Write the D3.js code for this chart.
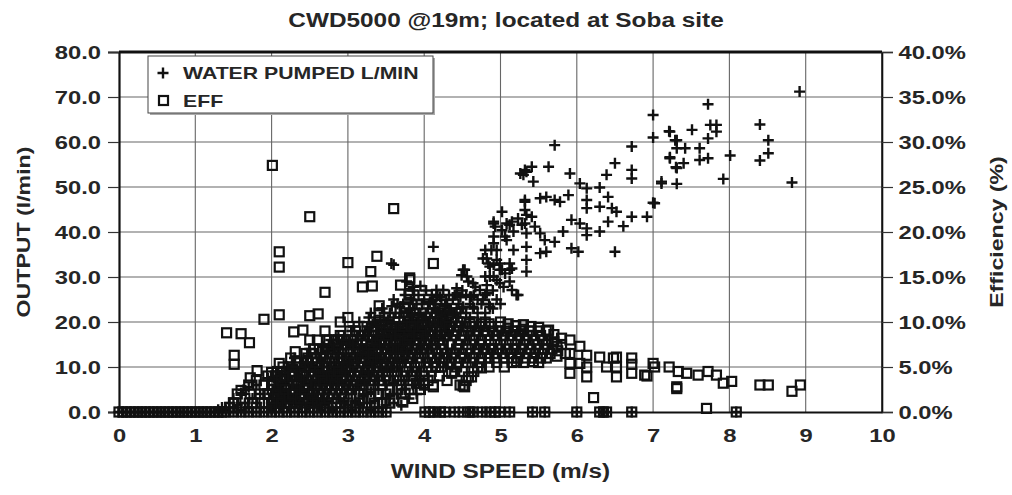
<!DOCTYPE html>
<html><head><meta charset="utf-8">
<script src="https://cdn.jsdelivr.net/npm/d3@7"></script>
<style>
html,body{margin:0;padding:0;background:#fff;}
svg{display:block;}
text{font-family:"Liberation Sans",Arial,sans-serif;fill:#262626;}
</style></head>
<body>
<svg id="chart" width="1012" height="495"></svg>
<script>
// ---------- DATA ----------
const chartTitle = "CWD5000 @19m; located at Soba site";
const xTicks = [0,1,2,3,4,5,6,7,8,9,10];
const leftTicks = [0,10,20,30,40,50,60,70,80];
const rightTicks = [0,5,10,15,20,25,30,35,40];
const seriesNames = ["WATER PUMPED L/MIN","EFF"];

// wind speed (m/s), water pumped (l/min)
const waterPumped = [
[0,0],[0.05,0],[0.1,0],[0.15,0],[0.2,0],[0.25,0],[0.3,0],[0.35,0],[0.4,0],[0.45,0],[0.5,0],[0.55,0],[0.6,0],[0.65,0],[0.7,0],[0.75,0],[0.8,0],[0.85,0],[0.9,0],[0.95,0],[1,0],[1.05,0],[1.1,0],[1.15,0],[1.2,0],[1.25,0],[1.3,0],[1.35,0],[1.4,0],[1.5,0],[1.6,0],[1.7,0],[1.8,0],[1.9,0],[2,0],[2.1,0],[2.2,0],[2.3,0],[2.4,0],[2.5,0],[2.6,0],[2.7,0],[2.8,0],[2.9,0],[3,0],[3.1,0],[3.2,0],[3.3,0],[3.4,0],[3.5,0],
[4.01,0],[4.07,0],[4.12,0],[4.21,0],[4.27,0],[4.4,0],[4.51,0],[4.6,0],[4.64,0],[4.76,0],[4.86,0],[4.93,0],[4.99,0],[5.12,0],[5.42,0],[5.58,0],[6.0,0],[6.3,0],[6.35,0],[6.39,0],[6.72,0],[8.09,0],
[1.3,0.5],[1.35,1],[1.4,0.5],[1.45,2],[1.5,1],[1.5,3],[1.55,1.5],[1.6,0.5],[1.6,4.2],[1.63,4.9],[1.65,2],[1.7,5.5],[1.7,1],[1.75,3],[1.8,2],[1.8,6],[1.85,4],[1.9,1],[1.9,3],[1.95,5],[1.95,7.5],[2.0,2],[2.0,4],[2.0,0.5],
[2.05,1],[2.05,3],[2.05,6],[2.1,2],[2.1,4.5],[2.1,8],[2.15,1],[2.15,5],[2.2,3],[2.2,7],[2.2,10],[2.25,2],[2.25,5],[2.3,1],[2.3,4],[2.3,8],[2.3,12],[2.35,3],[2.35,6],[2.4,2],[2.4,5],[2.4,9],[2.45,4],[2.45,7],[2.45,11],[2.5,3],[2.5,6],[2.5,9],[2.5,14],
[2.55,2],[2.55,5],[2.55,8],[2.6,4],[2.6,7],[2.6,11],[2.65,3],[2.65,6],[2.65,9],[2.65,13],[2.7,5],[2.7,8],[2.7,12],[2.75,4],[2.75,7],[2.75,10],[2.75,15],[2.8,3],[2.8,6],[2.8,9],[2.8,13],[2.85,5],[2.85,8],[2.85,11],[2.85,16],[2.9,4],[2.9,7],[2.9,10],[2.9,14],[2.95,6],[2.95,9],[2.95,12],[2.95,17],[3.0,5],[3.0,8],[3.0,11],[3.0,15],
[3.05,4],[3.05,7],[3.05,10],[3.05,13],[3.05,18],[3.1,6],[3.1,9],[3.1,12],[3.1,16],[3.15,5],[3.15,8],[3.15,11],[3.15,14],[3.15,20],[3.2,7],[3.2,10],[3.2,13],[3.2,17],[3.25,6],[3.25,9],[3.25,12],[3.25,15],[3.25,19],[3.3,8],[3.3,11],[3.3,14],[3.3,18],[3.3,22],[3.35,7],[3.35,10],[3.35,13],[3.35,16],[3.35,20],[3.4,9],[3.4,12],[3.4,15],[3.4,19],[3.45,8],[3.45,11],[3.45,14],[3.45,17],[3.45,23],[3.5,10],[3.5,13],[3.5,16],[3.5,20],
[3.55,9],[3.55,12],[3.55,15],[3.55,18],[3.55,22],[3.6,11],[3.6,14],[3.6,17],[3.6,21],[3.6,25],[3.65,10],[3.65,13],[3.65,16],[3.65,19],[3.65,24],[3.7,12],[3.7,15],[3.7,18],[3.7,22],[3.75,11],[3.75,14],[3.75,17],[3.75,20],[3.75,26],[3.8,13],[3.8,16],[3.8,19],[3.8,23],[3.85,12],[3.85,15],[3.85,18],[3.85,21],[3.85,27],[3.9,14],[3.9,17],[3.9,20],[3.9,24],[3.95,13],[3.95,16],[3.95,19],[3.95,22],[3.95,28],[4.0,15],[4.0,18],[4.0,21],[4.0,25],
[4.05,14],[4.05,17],[4.05,20],[4.05,23],[4.1,16],[4.1,19],[4.1,22],[4.1,26],[4.15,15],[4.15,18],[4.15,21],[4.15,24],[4.2,17],[4.2,20],[4.2,23],[4.25,16],[4.25,19],[4.25,22],[4.3,18],[4.3,21],[4.3,24],[4.35,17],[4.35,20],[4.35,23],[4.4,19],[4.4,22],[4.4,26],[4.45,18],[4.45,21],[4.45,24],[4.5,20],[4.5,23],[4.5,27],
[2.025,1.5],[2.025,4],[2.025,7.5],[2.075,2.5],[2.075,5.5],[2.075,9],[2.125,1.5],[2.125,3.5],[2.125,6.5],[2.175,2],[2.175,4],[2.175,8.5],[2.225,1],[2.225,3.5],[2.225,6],[2.225,9.5],[2.275,2.5],[2.275,7],[2.275,10.5],[2.325,2],[2.325,5.5],[2.325,9.5],[2.375,1.5],[2.375,4.5],[2.375,7.5],[2.375,11],[2.425,3],[2.425,6],[2.425,10],[2.475,1.5],[2.475,5],[2.475,8],[2.475,12.5],
[2.525,3.5],[2.525,6.5],[2.525,10.5],[2.575,2.5],[2.575,6],[2.575,9.5],[2.575,13],[2.625,1.5],[2.625,5],[2.625,8.5],[2.625,12],[2.675,4],[2.675,7.5],[2.675,11],[2.675,14.5],[2.725,2.5],[2.725,6.5],[2.725,10],[2.725,13.5],[2.775,5],[2.775,8.5],[2.775,12],[2.775,16],[2.825,4],[2.825,7.5],[2.825,11],[2.825,14.5],[2.875,3],[2.875,6.5],[2.875,9.5],[2.875,13],[2.875,17],[2.925,5],[2.925,8.5],[2.925,12],[2.925,15.5],[2.975,4],[2.975,7],[2.975,10.5],[2.975,14],
[3.025,6],[3.025,9],[3.025,12],[3.025,15.5],[3.075,5],[3.075,8],[3.075,11],[3.075,14.5],[3.075,19],[3.125,7],[3.125,10],[3.125,13],[3.125,17],[3.175,6],[3.175,9],[3.175,12.5],[3.175,16],[3.225,8],[3.225,11],[3.225,14],[3.225,18],[3.275,7],[3.275,10.5],[3.275,13.5],[3.275,17],[3.275,21],[3.325,9],[3.325,12.5],[3.325,15.5],[3.325,19.5],[3.375,8],[3.375,11.5],[3.375,14.5],[3.375,18],[3.425,10],[3.425,13],[3.425,16.5],[3.425,20.5],[3.475,9],[3.475,12],[3.475,15],[3.475,18.5],[3.475,22],
[3.525,11],[3.525,14],[3.525,17],[3.525,20.5],[3.575,10],[3.575,13.5],[3.575,16.5],[3.575,19.5],[3.575,23.5],[3.625,12],[3.625,15],[3.625,18.5],[3.625,22],[3.675,11],[3.675,14.5],[3.675,17.5],[3.675,21],[3.725,13],[3.725,16.5],[3.725,19.5],[3.725,24],[3.775,12],[3.775,15.5],[3.775,18.5],[3.775,22],[3.825,14],[3.825,17.5],[3.825,20.5],[3.825,25],[3.875,13],[3.875,16.5],[3.875,19.5],[3.875,23],[3.925,15],[3.925,18.5],[3.925,21.5],[3.925,26],[3.975,14],[3.975,17.5],[3.975,20.5],[3.975,24],
[4.025,16],[4.025,19],[4.025,22],[4.025,27],[4.075,15],[4.075,18],[4.075,21],[4.075,24.5],[4.125,17],[4.125,20],[4.125,23],[4.175,16],[4.175,19.5],[4.175,22.5],[4.175,26],[4.225,18],[4.225,21.5],[4.225,25],[4.275,17],[4.275,20.5],[4.275,23.5],[4.325,19],[4.325,22.5],[4.325,26],[4.375,18],[4.375,21.5],[4.375,25],[4.425,20],[4.425,23],[4.425,27.5],[4.475,19],[4.475,22],[4.475,25.5],
[2.5,1],[2.55,3.5],[2.6,1.5],[2.65,0.5],[2.7,2],[2.75,1],[2.8,0.5],[2.85,2],[2.9,1],[2.95,2.5],[3.0,1.5],[3.05,0.5],[3.1,2.5],[3.15,1.5],[3.2,3.5],[3.25,2],[3.3,0.5],[3.3,4.5],[3.35,2.5],[3.4,1],[3.4,5],[3.45,3],[3.5,1.5],[3.5,6],[3.55,3.5],[3.6,2],[3.6,6.5],[3.65,4],[3.7,1.5],[3.7,7],[3.75,5],[3.8,3],[3.8,8],[3.85,6],[3.9,4],[3.9,9],[3.95,7],[4.0,5],[4.0,10],[4.05,8],[4.1,11],[4.15,9],[4.2,12],[4.25,10],[4.3,13],[4.35,12],[4.4,14],[4.45,13],[4.5,15],
[4.55,22],[4.55,26],[4.6,21],[4.6,24],[4.65,23],[4.65,26],[4.7,22],[4.7,25],[4.75,24],[4.8,22],[4.8,26],[4.85,24],[4.9,23],[4.9,27],[4.95,25],[5.0,24],
[3.57,33.0],[3.6,32.7],[3.77,29.0],[3.86,27.8],[3.68,23.4],[3.81,22.7],[3.81,21.2],[3.73,21.2],[3.84,21.6],[4.12,36.7],[4.12,24.9],[4.21,25.6],[4.25,27.1],[4.16,27.1],[4.16,25.6],[4.29,24.9],[4.43,26.4],[4.49,30.4],[4.51,31.6],[4.53,31.6],[4.56,30.1],[4.58,29.0],[4.64,28.6],[4.67,27.8],[4.73,27.1],[4.6,25.6],[4.62,25.6],[4.77,24.9],[4.51,23.4],[4.64,23.4],[4.86,23.4],
[4.80,36.0],[4.88,36.0],[4.77,34.1],[4.95,33.8],[4.86,32.3],[4.99,31.6],[5.12,31.6],[4.86,30.1],[4.99,28.6],[5.12,29.0],[5.21,26.0],[4.91,42.3],[5.02,40.4],[5.15,42.3],[5.28,41.6],[4.91,39.0],[5.08,38.2],[4.95,36.0],[5.17,36.0],[4.82,34.1],[4.91,32.7],[5.02,31.6],[5.15,31.9],[4.80,30.1],[4.95,29.3],[5.04,27.8],[5.15,27.1],[5.23,26.0],[4.82,28.2],[4.82,26.4],[4.91,30.1],[5.06,30.8],[4.84,33.0],[4.99,33.0],[5.12,33.0],[4.91,37.5],[5.06,39.0],[5.17,40.1],[4.93,41.2],[5.12,41.6],[5.02,44.5],[4.91,41.9],[5.08,41.9],[5.23,43.0],[5.34,43.8],
[5.32,46.7],[5.32,44.9],[5.41,43.4],[5.32,41.9],[5.45,41.2],[5.34,39.7],[5.52,39.7],[5.58,38.2],[5.34,36.7],[5.52,35.3],[5.34,33.8],[5.34,31.2],[5.30,52.7],[5.26,53.0],[5.32,53.8],[5.41,54.5],[5.63,54.5],[5.43,51.2],[5.34,53.4],[5.6,47.8],[5.52,47.5],[5.71,47.1],[5.32,47.1],[5.71,59.3],[5.91,53.0],[6.04,50.8],[6.13,49.7],[5.89,48.2],[5.78,46.7],[6.13,47.1],[6.13,45.3],[5.93,42.7],[6.04,41.9],[6.13,40.8],[6.13,39.3],[5.82,40.1],[5.93,36.4],[6.02,35.6],[5.71,37.8],[5.6,35.6],
[6.50,55.3],[6.72,53.8],[6.72,51.9],[6.39,52.7],[6.30,49.9],[6.41,47.8],[6.30,45.6],[6.46,45.3],[6.52,44.5],[6.41,42.3],[6.72,43.4],[6.61,41.3],[6.30,40.1],[6.50,35.6],[6.72,59.0],[6.92,43.4],[7.02,46.4],
[7.00,66.0],[7.00,61.0],[7.22,62.3],[7.29,60.4],[7.22,56.4],[7.31,54.2],[7.11,51.2],[7.00,46.5],[7.72,68.4],[7.21,62.4],[7.31,60.4],[7.31,58.6],[7.42,58.6],[7.51,62.7],[7.61,58.6],[7.61,56.0],[7.72,56.4],[7.75,63.8],[7.83,63.8],[7.83,62.3],[7.72,60.8],[7.22,56.6],[7.30,54.4],[7.40,55.3],[8.01,57.0],[7.92,51.8],[7.11,50.8],[7.31,50.7],
[8.40,63.9],[8.51,60.4],[8.51,57.5],[8.40,55.9],[8.82,51.0],[8.92,71.2]
];

// wind speed (m/s), efficiency (%)
const efficiency = [
[0,0],[0.05,0],[0.1,0],[0.15,0],[0.2,0],[0.25,0],[0.3,0],[0.35,0],[0.4,0],[0.45,0],[0.5,0],[0.55,0],[0.6,0],[0.65,0],[0.7,0],[0.75,0],[0.8,0],[0.85,0],[0.9,0],[0.95,0],[1,0],[1.05,0],[1.1,0],[1.15,0],[1.2,0],[1.25,0],[1.3,0],[1.35,0],[1.4,0],[1.5,0],[1.6,0],[1.7,0],[1.8,0],[1.9,0],[2,0],[2.1,0],[2.2,0],[2.3,0],[2.4,0],[2.5,0],[2.6,0],[2.7,0],[2.8,0],[2.9,0],[3,0],[3.1,0],[3.2,0],[3.3,0],[3.4,0],[3.5,0],
[4.01,0],[4.07,0],[4.12,0],[4.21,0],[4.27,0],[4.4,0],[4.51,0],[4.6,0],[4.64,0],[4.76,0],[4.86,0],[4.93,0],[4.99,0],[5.12,0],[5.42,0],[5.58,0],[6.0,0],[6.3,0],[6.35,0],[6.39,0],[6.72,0],[8.09,0],[7.70,0.4],
[1.45,0.5],[1.5,1],[1.55,2],[1.6,0.5],[1.6,2.4],[1.65,1.5],[1.7,3],[1.72,2.0],[1.75,1],[1.8,0.5],[1.8,3.5],[1.85,2],[1.9,1],[1.9,3],[1.95,4],[1.95,2],[2.0,1],[2.0,3],
[1.41,8.8],[1.60,8.7],[1.71,7.7],[1.51,6.3],[1.51,5.3],[1.81,4.6],[1.72,3.8],[2.0,4.4],[2.10,5.4],[2.31,6.7],[2.29,8.9],[2.41,9.1],[2.5,8.0],[1.9,10.3],[2.1,10.8],[2.5,10.7],[2.61,10.9],[2.9,10.0],[3.0,10.5],[2.7,13.3],[3.19,13.9],[3.32,14.0],[3.30,15.6],[3.38,17.3],[3.0,16.6],[2.1,16.1],[2.1,17.8],[2.5,21.7],[2.01,27.4],[3.6,22.6],[4.12,16.5],[3.81,14.9],[3.69,14.1],[3.8,13.0],[3.91,11.9],[3.41,11.8],[3.41,11.0],[3.41,10.2],[3.81,14.7],[3.75,11.7],[3.81,13.2],
[2.05,0.5],[2.05,2],[2.05,4],[2.1,1],[2.1,3],[2.15,2],[2.15,5],[2.2,1],[2.2,3.5],[2.25,2.5],[2.25,6],[2.3,1.5],[2.3,4],[2.35,3],[2.35,5.5],[2.4,2],[2.4,4.5],[2.45,3.5],[2.45,6.5],[2.5,2],[2.5,5],
[2.55,2],[2.55,4.5],[2.55,7],[2.6,3],[2.6,5.5],[2.6,8],[2.65,2.5],[2.65,6],[2.7,4],[2.7,7],[2.7,9],[2.75,3],[2.75,5.5],[2.75,8],[2.8,2],[2.8,4.5],[2.8,6.5],[2.85,3.5],[2.85,7.5],[2.9,2.5],[2.9,5],[2.9,8.5],[2.95,4],[2.95,6.5],[3.0,3],[3.0,5.5],[3.0,8],
[3.05,2.5],[3.05,5],[3.05,7.5],[3.1,3.5],[3.1,6],[3.1,9],[3.15,2],[3.15,4.5],[3.15,7],[3.2,3],[3.2,5.5],[3.2,8.5],[3.25,4],[3.25,6.5],[3.25,9.5],[3.3,2.5],[3.3,5],[3.3,7.5],[3.35,3.5],[3.35,6],[3.35,9],[3.4,4.5],[3.4,7],[3.45,3],[3.45,5.5],[3.45,8.5],[3.5,4],[3.5,6.5],[3.5,9.5],
[3.55,2.5],[3.55,5],[3.55,7.5],[3.6,3.5],[3.6,6],[3.6,9],[3.65,4.5],[3.65,7],[3.7,3],[3.7,5.5],[3.7,8.5],[3.75,4],[3.75,6.5],[3.75,9.5],[3.8,5],[3.8,7.5],[3.85,3.5],[3.85,6],[3.85,9],[3.9,4.5],[3.9,7],[3.95,5.5],[3.95,8.5],[4.0,4],[4.0,6.5],[4.0,9],
[4.05,5],[4.05,7.5],[4.05,10],[4.1,6],[4.1,8.5],[4.15,5],[4.15,7],[4.15,9.5],[4.2,6],[4.2,8],[4.25,5.5],[4.25,7.5],[4.25,10],[4.3,6.5],[4.3,8.5],[4.35,5.5],[4.35,7.5],[4.35,9.5],[4.4,6.5],[4.4,8.5],[4.45,5.5],[4.45,7.5],[4.45,9.5],[4.5,6.5],[4.5,8.5],
[4.55,5.5],[4.55,7.5],[4.55,9.5],[4.6,6.5],[4.6,8.5],[4.65,6],[4.65,8],[4.65,10],[4.7,7],[4.7,9],[4.75,6],[4.75,8],[4.75,9.8],[4.8,7],[4.8,9],[4.85,6],[4.85,8],[4.85,9.8],[4.9,7],[4.9,9],[4.95,6.5],[4.95,8.5],[5.0,7.5],[5.0,9.5],
[5.05,6],[5.05,8.5],[5.1,7],[5.1,9.3],[5.15,6],[5.15,8],[5.2,7],[5.2,9],[5.25,6.5],[5.25,8.5],[5.3,7.5],[5.3,9.2],[5.35,6.5],[5.35,8.5],[5.4,7],[5.4,9],[5.45,6.5],[5.45,8],[5.5,7],[5.5,9],[5.55,6.5],[5.55,8],[5.6,7.5],[5.63,9.1],[5.65,6.5],[5.7,7.8],[5.74,7.3],[5.74,6.2],[5.75,6.8],[5.8,7.5],[5.85,6.5],
[2.025,1.5],[2.025,3],[2.075,2],[2.075,4.5],[2.125,1],[2.125,3.5],[2.175,2.5],[2.175,4],[2.225,1.5],[2.225,5],[2.275,2],[2.275,4],[2.325,3],[2.325,5.5],[2.375,1.5],[2.375,4],[2.425,2.5],[2.425,5],[2.475,3.5],[2.475,6],
[2.525,1.5],[2.525,4],[2.525,6.5],[2.575,3],[2.575,5.5],[2.625,2],[2.625,4.5],[2.625,7],[2.675,3.5],[2.675,6],[2.725,2.5],[2.725,5],[2.725,8],[2.775,4],[2.775,6.5],[2.825,3],[2.825,5.5],[2.825,8],[2.875,4.5],[2.875,7],[2.925,3.5],[2.925,6],[2.925,8],[2.975,5],[2.975,7.5],
[3.025,4],[3.025,6.5],[3.025,9],[3.075,3],[3.075,5.5],[3.075,8],[3.125,4.5],[3.125,7.5],[3.175,3.5],[3.175,6],[3.175,8.5],[3.225,4.5],[3.225,7],[3.275,3],[3.275,5.5],[3.275,8.5],[3.325,4],[3.325,6.5],[3.325,9],[3.375,5],[3.375,8],[3.425,3.5],[3.425,6],[3.425,9],[3.475,5],[3.475,7.5],
[3.525,3.5],[3.525,6],[3.525,8.5],[3.575,4.5],[3.575,7],[3.575,9.5],[3.625,5],[3.625,8],[3.675,3.5],[3.675,6],[3.675,8.5],[3.725,4.5],[3.725,7],[3.725,9.5],[3.775,5.5],[3.775,8],[3.825,4],[3.825,6.5],[3.825,9.5],[3.875,5],[3.875,7.5],[3.925,6],[3.925,8.5],[3.975,4.5],[3.975,7],[3.975,9.5],
[4.025,5.5],[4.025,8],[4.075,6.5],[4.075,9],[4.125,5.5],[4.125,7.5],[4.125,10],[4.175,6.5],[4.175,8.5],[4.225,5],[4.225,7],[4.225,9],[4.275,6],[4.275,8.5],[4.325,5.5],[4.325,7.5],[4.325,9.5],[4.375,6.5],[4.375,8.5],[4.425,5],[4.425,7],[4.425,9],[4.475,6],[4.475,8],[4.475,10],
[4.525,6],[4.525,8.5],[4.575,7],[4.575,9],[4.625,5.5],[4.625,7.5],[4.625,9.5],[4.675,6.5],[4.675,8.5],[4.725,5.5],[4.725,7.5],[4.725,9.5],[4.775,7],[4.775,9],[4.825,6.5],[4.825,8.5],[4.875,7],[4.875,9.5],[4.925,6],[4.925,8],[4.975,7],[4.975,9],
[5.025,6.5],[5.025,8.5],[5.075,7.5],[5.075,9],[5.125,6.5],[5.125,8.5],[5.175,7],[5.175,9],[5.225,6],[5.225,8],[5.275,7],[5.275,9],[5.325,6],[5.325,8],[5.375,7.5],[5.375,9],[5.425,6],[5.425,8.5],[5.475,7.5],[5.525,6],[5.525,8.5],[5.575,7],[5.625,8],[5.675,7],
[2.5,0.5],[2.6,1],[2.7,0.5],[2.75,1.5],[2.85,1],[2.9,0.5],[2.95,1.5],[3.0,1],[3.1,0.5],[3.15,1],[3.2,1.5],[3.25,0.5],[3.3,1.5],[3.35,1],[3.4,2],[3.45,1],[3.5,2],[3.55,1],[3.6,1.5],[3.65,2.5],[3.7,2],[3.8,2.5],[3.85,1.5],[3.95,2.5],[4.05,3.5],[4.2,4],[4.3,3.5],[4.4,4.5],[4.5,4.5],[4.55,3.5],[4.65,4.5],[4.7,5],[4.85,5],[4.95,5.5],[5.05,5],[5.15,5.5],[5.3,5.5],[5.5,5.5],[5.6,6],
[4.6,9.8],[4.8,10],[5.0,10],[5.1,9.8],[5.2,9.6],[5.3,9.7],[5.4,9.5],[5.5,9.4],[5.6,9.0],[5.7,8.6],[5.8,8.2],
[3.72,1.1],[3.75,2.1],[3.9,3.2],[3.94,3.2],[3.99,3.2],[4.12,2.8],[4.12,3.0],[4.36,4.3],[4.47,3.0],[4.51,2.9],[4.53,2.8],[4.58,3.9],[4.62,3.9],[4.75,4.9],[5.21,5.6],[5.43,5.6],
[5.91,8.0],[5.91,6.5],[5.91,5.4],[5.91,4.3],[6.04,7.3],[6.04,5.4],[6.13,6.3],[6.13,5.0],[6.13,3.9],[6.22,1.6],[6.30,6.1],[6.39,5.0],[6.48,6.0],[6.52,6.1],[6.52,5.0],[6.52,3.9],[6.72,6.0],[6.72,5.3],[6.72,4.3],[6.89,4.1],[6.92,4.0],[7.0,5.4],[7.02,5.0],
[7.21,5.0],[7.33,4.5],[7.44,4.3],[7.59,4.1],[7.72,4.5],[7.83,4.1],[7.92,3.2],[8.03,3.4],[7.31,2.8],[7.31,2.6],[8.40,3.0],[8.51,3.0],[8.82,2.3],[8.93,3.0]
];

// ---------- CHART ----------
const W = 1012, H = 495;
const plot = {left:119, right:882, top:52, bottom:412};
const TX = 1.25; // horizontal text stretch of the original
const svg = d3.select("#chart");

const x = d3.scaleLinear().domain([0,10]).range([plot.left, plot.right]);
const yL = d3.scaleLinear().domain([0,80]).range([plot.bottom, plot.top]);
const yR = d3.scaleLinear().domain([0,40]).range([plot.bottom, plot.top]);

// gridlines
const grid = svg.append("g").attr("stroke","#666").attr("stroke-width",1.1);
grid.selectAll("line.h").data(leftTicks.filter(d=>d>0 && d<80)).enter().append("line")
  .attr("x1",plot.left).attr("x2",plot.right).attr("y1",d=>yL(d)).attr("y2",d=>yL(d));
grid.selectAll("line.v").data(xTicks.filter(d=>d>0 && d<10)).enter().append("line")
  .attr("y1",plot.top).attr("y2",plot.bottom).attr("x1",d=>x(d)).attr("x2",d=>x(d));

// frame
svg.append("line").attr("x1",plot.left).attr("x2",plot.right).attr("y1",plot.top).attr("y2",plot.top).attr("stroke","#111").attr("stroke-width",3);
svg.append("line").attr("x1",plot.right).attr("x2",plot.right).attr("y1",plot.top).attr("y2",plot.bottom).attr("stroke","#222").attr("stroke-width",1.6);

// axes
function stretchText(sel, sx){
  sel.each(function(){ d3.select(this).attr("transform", `scale(${sx},1)`); });
}
const fontTick = 19;
const axL = svg.append("g").attr("transform",`translate(${plot.left},0)`)
  .call(d3.axisLeft(yL).tickValues(leftTicks).tickFormat(d3.format(".1f")).tickSize(11).tickPadding(3.4));
const axR = svg.append("g").attr("transform",`translate(${plot.right},0)`)
  .call(d3.axisRight(yR).tickValues(rightTicks).tickFormat(d=>d.toFixed(1)+"%").tickSize(11).tickPadding(2.2));
const axB = svg.append("g").attr("transform",`translate(0,${plot.bottom})`)
  .call(d3.axisBottom(x).tickValues(xTicks).tickFormat(d3.format("d")).tickSize(0).tickPadding(17));
[axL,axR,axB].forEach(a=>{
  a.select(".domain").attr("stroke","#111").attr("stroke-width",2.2);
  a.selectAll(".tick line").attr("stroke","#333").attr("stroke-width",1.2);
  a.selectAll(".tick text").attr("font-family","Liberation Sans, Arial, sans-serif")
   .attr("font-size",fontTick).attr("font-weight","bold").attr("fill","#262626").call(stretchText, TX);
});
axR.select(".domain").attr("stroke-width",1.6);

// title
svg.append("text").attr("transform",`translate(${W/2},27) scale(${TX},1)`)
  .attr("text-anchor","middle").attr("font-size",19.5).attr("font-weight","bold").text(chartTitle);
// axis titles
svg.append("text").attr("transform",`translate(${(plot.left+plot.right)/2},478) scale(${TX},1)`)
  .attr("text-anchor","middle").attr("font-size",19.5).attr("font-weight","bold").attr("fill","#333").text("WIND SPEED (m/s)");
svg.append("text").attr("transform",`translate(30,${(plot.top+plot.bottom)/2}) rotate(-90) scale(${TX},1)`)
  .attr("text-anchor","middle").attr("font-size",18.5).attr("font-weight","bold").attr("fill","#333").text("OUTPUT (l/min)");
svg.append("text").attr("transform",`translate(1003,${(plot.top+plot.bottom)/2}) rotate(-90) scale(${TX},1)`)
  .attr("text-anchor","middle").attr("font-size",18.5).attr("font-weight","bold").attr("fill","#333").text("Efficiency (%)");

// markers
const plusPath = "M-5.5,0H5.5M0,-5.5V5.5";
const gP = svg.append("g");
gP.selectAll("path").data(waterPumped).enter().append("path")
  .attr("d",plusPath).attr("transform",d=>`translate(${x(d[0])},${yL(d[1])})`)
  .attr("stroke","#111").attr("stroke-width",2.4).attr("fill","none");
const gE = svg.append("g");
gE.selectAll("rect").data(efficiency).enter().append("rect")
  .attr("x",d=>x(d[0])-4.5).attr("y",d=>yR(d[1])-4.5).attr("width",9).attr("height",9)
  .attr("stroke","#111").attr("stroke-width",2.2).attr("fill","none");

// legend
const lg = svg.append("g");
lg.append("rect").attr("x",150).attr("y",58).attr("width",285).attr("height",57).attr("fill","#aaa");
lg.append("rect").attr("x",148).attr("y",56).attr("width",285).attr("height",57).attr("fill","#fff").attr("stroke","#444").attr("stroke-width",1);
lg.append("path").attr("d",plusPath).attr("transform","translate(163,73)").attr("stroke","#111").attr("stroke-width",2.4);
lg.append("rect").attr("x",159).attr("y",96).attr("width",9).attr("height",9).attr("stroke","#111").attr("stroke-width",2.2).attr("fill","none");
lg.selectAll("text.l").data(seriesNames).enter().append("text")
  .attr("transform",(d,i)=>`translate(183,${79+i*28}) scale(${TX},1)`)
  .attr("font-size",17).attr("font-weight","bold").text(d=>d);
</script>
</body></html>
